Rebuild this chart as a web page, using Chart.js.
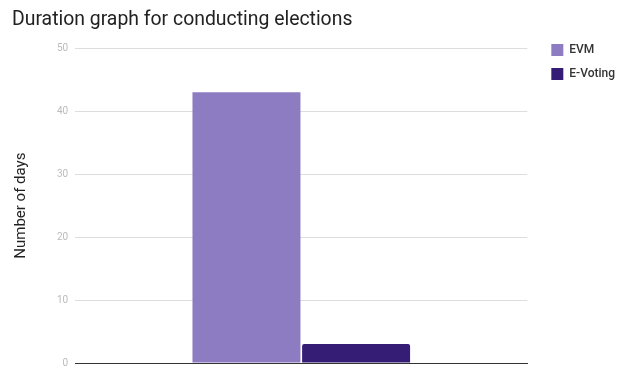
<!DOCTYPE html>
<html>
<head>
<meta charset="utf-8">
<script src="https://cdn.jsdelivr.net/npm/chart.js@4/dist/chart.umd.min.js"></script>
<style>
  html, body { margin: 0; padding: 0; background: #fff; }
  #wrap { width: 627px; height: 369px; position: relative; }
</style>
</head>
<body>
<div id="wrap"><canvas id="c" width="627" height="369"></canvas></div>
<script>
const categories = [''];
const seriesNames = ['EVM', 'E-Voting'];
const evmValues = [43];
const eVotingValues = [3];
const yTicks = [0, 10, 20, 30, 40, 50];

// widen the legend box on its left side so the plot ends where the reference does
const legendGap = {
  id: 'legendGap',
  afterInit(chart) {
    const lg = chart.legend;
    if (lg && !lg._patched) {
      const orig = lg.fit.bind(lg);
      lg.fit = function () { orig(); this.width += 12; };
      lg._patched = true;
    }
  },
  afterLayout(chart) {
    if (chart.legend) chart.legend.left += 12;
  }
};

const ctx = document.getElementById('c');
new Chart(ctx, {
  type: 'bar',
  data: {
    labels: categories,
    datasets: [
      { label: seriesNames[0], data: evmValues, backgroundColor: '#8e7cc3', categoryPercentage: 0.485, barPercentage: 0.985 },
      { label: seriesNames[1], data: eVotingValues, backgroundColor: '#351c75', categoryPercentage: 0.485, barPercentage: 0.985, borderRadius: { topLeft: 2, topRight: 2 } }
    ]
  },
  plugins: [legendGap],
  options: {
    responsive: false,
    animation: false,
    layout: { padding: { left: 12, right: 2, top: 8, bottom: 0 } },
    plugins: {
      title: {
        display: true,
        text: 'Duration graph for conducting elections',
        align: 'start',
        color: '#222',
        font: { family: 'Roboto', size: 19.4, weight: 'normal' },
        padding: { top: 1, bottom: 16 }
      },
      legend: {
        position: 'right',
        align: 'start',
        title: {
          display: true,
          text: ' ',
          font: { size: 10 },
          padding: { top: 0, bottom: 12 }
        },
        labels: {
          boxWidth: 12,
          boxHeight: 12,
          padding: 12,
          color: '#333',
          font: { family: 'Roboto', size: 12, weight: '500' }
        }
      },
      tooltip: { enabled: false }
    },
    scales: {
      x: {
        ticks: { display: false },
        grid: { display: false },
        border: { display: true, color: '#333', width: 1 },
        afterFit: (axis) => { axis.height = 0; }
      },
      y: {
        min: 0,
        max: 50,
        afterBuildTicks: (axis) => { axis.ticks = yTicks.map(v => ({ value: v })); },
        afterFit: (axis) => { axis.paddingBottom = 6; },
        ticks: { color: '#bbb', font: { family: 'Roboto', size: 10 }, padding: 7 },
        grid: { color: '#ddd', drawTicks: false },
        border: { display: false },
        title: {
          display: true,
          text: 'Number of days',
          color: '#222',
          font: { family: 'Roboto', size: 15 },
          padding: { top: 0, bottom: 20 }
        }
      }
    }
  }
});
</script>
</body>
</html>
